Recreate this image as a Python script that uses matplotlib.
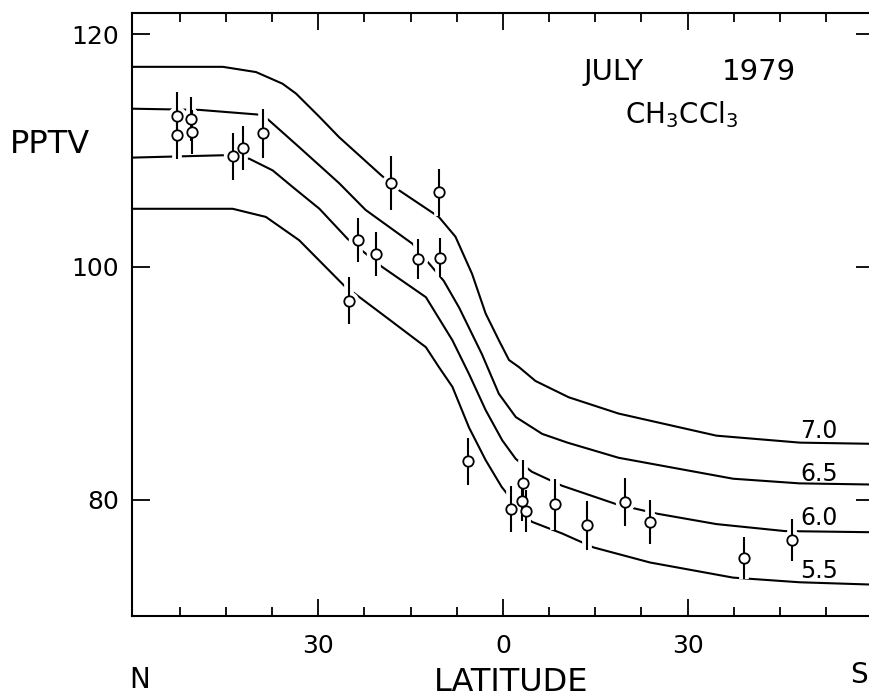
import matplotlib
matplotlib.use("Agg")
from matplotlib import pyplot as plt
from matplotlib import ticker

plt.rcParams["font.family"] = ["DejaVu Sans"]

# model curves (latitude, N positive) for lifetimes 7.0, 6.5, 6.0, 5.5 yr
lat_70 = [60.1, 45.5, 40.1, 35.8, 33.6, 29.8, 26.6, 19.8, 16.9, 10.4, 7.7, 5.0, 2.8, 0.65, -1.0,
          -2.6, -5.3, -10.7, -18.8, -34.7, -48.3, -60.0]
ppt_70 = [117.2, 117.2, 116.75, 115.75, 114.9, 112.9, 111.15, 107.9, 106.6, 104.3, 102.6, 99.4, 96.0,
          93.7, 92.0, 91.4, 90.2, 88.8, 87.4, 85.5, 84.9, 84.8]

lat_65 = [60.1, 49.3, 39.8, 38.2, 33.1, 26.6, 22.3, 14.7, 9.6, 7.1, 3.4, 0.65, -2.1, -6.4, -10.5,
          -18.8, -37.4, -48.2, -60.0]
ppt_65 = [113.6, 113.5, 113.1, 112.7, 110.3, 107.2, 104.9, 102.0, 98.8, 96.5, 92.5, 89.1, 87.1, 85.65,
          84.9, 83.6, 81.8, 81.4, 81.3]

lat_60 = [60.1, 45.5, 41.2, 37.4, 34.1, 29.8, 25.2, 19.6, 12.5, 8.2, 5.5, 2.8, 0.1, -2.1, -4.7,
          -9.6, -18.5, -25.0, -34.7, -45.8, -60.0]
ppt_60 = [109.4, 109.6, 109.3, 108.3, 106.85, 105.0, 102.4, 100.0, 97.4, 93.7, 90.8, 87.7, 85.1, 83.5,
          82.4, 81.2, 79.6, 78.8, 77.9, 77.3, 77.2]

lat_55 = [60.1, 43.9, 38.5, 33.1, 25.8, 19.0, 12.5, 10.4, 8.2, 5.5, 2.8, 0.2, -1.9, -4.7, -9.6,
          -14.7, -23.9, -37.4, -48.2, -60.0]
ppt_55 = [105.0, 105.0, 104.3, 102.3, 98.4, 95.7, 93.1, 91.4, 89.7, 86.2, 83.4, 81.1, 79.7, 78.1,
          77.1, 75.9, 74.6, 73.3, 72.9, 72.7]

curve_labels = ["7.0", "6.5", "6.0", "5.5"]
label_y = [85.3, 81.6, 77.85, 73.3]

# observations
lat_obs = [53.0, 52.9, 50.7, 50.5, 43.9, 42.3, 39.0, 18.2, 10.3, 23.5, 20.6, 13.8, 10.2,
           25.0, 5.6, -1.4, -3.2, -3.1, -3.8, -8.5, -13.6, -19.9, -23.9, -39.2, -46.9]
ppt_obs = [113.0, 111.3, 112.7, 111.6, 109.5, 110.2, 111.5, 107.2, 106.4, 102.3, 101.1, 100.7, 100.8,
           97.1, 83.3, 79.2, 81.4, 79.9, 79.0, 79.6, 77.8, 79.8, 78.1, 75.0, 76.5]
err_obs = [2.0, 2.0, 1.9, 1.9, 2.0, 1.9, 2.1, 2.3, 2.0, 1.9, 1.9, 1.7, 1.7,
           2.0, 2.0, 2.0, 2.0, 1.7, 1.8, 2.2, 2.1, 2.1, 1.9, 1.8, 1.8]

fig = plt.figure(figsize=(8.7, 6.97), dpi=100)
ax = fig.add_axes([0.1514, 0.1162, 0.8532, 0.8647])

for lat, ppt in [(lat_70, ppt_70), (lat_65, ppt_65), (lat_60, ppt_60), (lat_55, ppt_55)]:
    ax.plot(lat, ppt, color="black", lw=1.5, zorder=1)

# white halo so the curves break around the points, like the original
ax.errorbar(lat_obs, ppt_obs, yerr=err_obs, fmt="o", color="white", ms=13, mec="white",
            elinewidth=7, capsize=0, zorder=2)
ax.errorbar(lat_obs, ppt_obs, yerr=err_obs, fmt="o", color="black", ms=7.5, mfc="white",
            mec="black", mew=1.3, elinewidth=1.5, capsize=0, zorder=3)

for lab, yy in zip(curve_labels, label_y):
    ax.text(-48.3, yy, lab, fontsize=17, ha="left", va="baseline", zorder=4)

ax.set_xlim(60.3, -60.3)
ax.set_ylim(70, 121.8)

ax.xaxis.set_major_locator(ticker.FixedLocator([30, 0, -30]))
ax.xaxis.set_minor_locator(ticker.FixedLocator([52.5, 45, 37.5, 22.5, 15, 7.5,
                                                -7.5, -15, -22.5, -37.5, -45, -52.5]))
ax.xaxis.set_major_formatter(ticker.FuncFormatter(lambda v, p: "%d" % abs(v)))
ax.yaxis.set_major_locator(ticker.FixedLocator([80, 100, 120]))

ax.tick_params(which="both", direction="in", top=True, right=True, width=1.3, labelsize=18)
ax.tick_params(axis="x", which="major", length=12, pad=13)
ax.tick_params(axis="x", which="minor", length=6.5)
ax.tick_params(axis="y", which="major", length=13, pad=9)
for s in ax.spines.values():
    s.set_linewidth(1.5)

fig.text(0.0115, 0.780, "PPTV", fontsize=23, va="baseline")
fig.text(0.149, 0.0125, "N", fontsize=20, va="baseline")
fig.text(0.977, 0.0197, "S", fontsize=20, va="baseline")
fig.text(0.588, 0.009, "LATITUDE", fontsize=23, va="baseline", ha="center")
fig.text(0.6705, 0.885, "JULY", fontsize=21, va="baseline")
fig.text(0.8295, 0.885, "1979", fontsize=21, va="baseline")
fig.text(0.7184, 0.823, r"CH$_3$CCl$_3$", fontsize=20, va="baseline")

plt.savefig("out.png", dpi=100)
